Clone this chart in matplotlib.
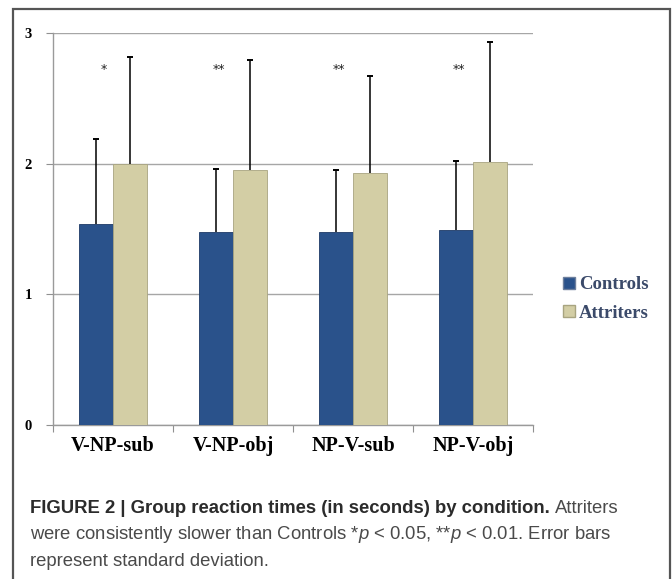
import matplotlib
matplotlib.use("Agg")
import matplotlib.pyplot as plt
from matplotlib.patches import Rectangle
from matplotlib.lines import Line2D
import numpy as np

categories = ["V-NP-sub", "V-NP-obj", "NP-V-sub", "NP-V-obj"]
controls = [1.54, 1.48, 1.48, 1.49]
controls_sd = [0.65, 0.48, 0.47, 0.53]
attriters = [2.00, 1.95, 1.93, 2.01]
attriters_sd = [0.82, 0.84, 0.74, 0.92]
stars = ["*", "**", "**", "**"]
star_level = 2.72
series_names = ["Controls", "Attriters"]
yticks = [0, 1, 2, 3]

c_ctrl = "#2a528b"
c_attr = "#d3cea5"

plt.rcParams["mathtext.fontset"] = "custom"
plt.rcParams["mathtext.it"] = "Liberation Sans:italic"
plt.rcParams["mathtext.rm"] = "Liberation Sans"

fig = plt.figure(figsize=(6.72, 5.79), dpi=100)
W, H = 672, 579

ax = fig.add_axes([53 / W, 1 - 425 / H, 480 / W, 392 / H])
x = np.arange(len(categories))
bw = 0.283
ax.bar(x - bw / 2, controls, bw, color=c_ctrl, edgecolor="#1d3a66", linewidth=0.6, zorder=3)
ax.bar(x + bw / 2, attriters, bw, color=c_attr, edgecolor="#a8a480", linewidth=0.6, zorder=3)

cap = 0.025
for xs, vals, sds in [(x - bw / 2, controls, controls_sd), (x + bw / 2, attriters, attriters_sd)]:
    tops = np.array(vals) + np.array(sds)
    ax.vlines(xs, vals, tops, color="black", linewidth=1.1, zorder=4)
    ax.hlines(tops, xs - cap, xs + cap, color="black", linewidth=1.4, zorder=4)

for i, s in enumerate(stars):
    ax.text(i - 0.04 - 0.04 * len(s), star_level, s, ha="center", va="center",
            fontsize=9, family="DejaVu Sans", color="#222222")

ax.set_xlim(-0.5, 3.5)
ax.set_ylim(0, 3)
ax.set_yticks(yticks)
ax.set_yticklabels([str(t) for t in yticks], family="Liberation Serif",
                   fontweight="bold", fontsize=10.5)
ax.set_xticks(np.arange(-0.5, 4, 1))
ax.set_xticklabels([])
ax.set_xticks(x, minor=True)
ax.set_xticklabels(categories, minor=True, family="Liberation Serif",
                   fontweight="bold", fontsize=14.5)
ax.tick_params(axis="x", which="minor", length=0, pad=8)
ax.tick_params(axis="x", which="major", length=5, color="#909090")
ax.tick_params(axis="y", length=5, color="#909090", pad=10)
ax.grid(axis="y", color="#a6a6a6", linewidth=1.0, zorder=0)
for sp in ["top", "right"]:
    ax.spines[sp].set_visible(False)
for sp in ["left", "bottom"]:
    ax.spines[sp].set_color("#9a9a9a")
    ax.spines[sp].set_linewidth(1.0)

# legend
handles = [Line2D([], [], marker="s", linestyle="none", markersize=8,
                  markerfacecolor=c_ctrl, markeredgecolor="#6d7f9d"),
           Line2D([], [], marker="s", linestyle="none", markersize=8,
                  markerfacecolor=c_attr, markeredgecolor="#a8a480")]
leg = fig.legend(handles, series_names, loc="center left",
                 bbox_to_anchor=(563 / W, 1 - 299 / H), frameon=False,
                 prop={"family": "Liberation Serif", "weight": "bold", "size": 13.5},
                 handlelength=0.6, handletextpad=0.25, labelspacing=0.6,
                 borderpad=0, borderaxespad=0)
for t in leg.get_texts():
    t.set_color("#3b4a6a")

# outer frame
fig.add_artist(Rectangle((13 / W, -0.01), (670 - 13) / W, (579 - 8.5) / H + 0.01,
                         transform=fig.transFigure, fill=False,
                         edgecolor="#555555", linewidth=1.6))

# caption
fig.canvas.draw()
r = fig.canvas.get_renderer()
cap_fs = 13.3
x0 = 30 / W
y1 = 1 - 513 / H
t1 = fig.text(x0, y1, "FIGURE 2 | Group reaction times (in seconds) by condition.",
              family="Liberation Sans", fontweight="bold", fontsize=cap_fs,
              color="#2b2b2b", va="baseline")
bb = t1.get_window_extent(r)
fig.text(bb.x1 / W + 5 / W, y1, "Attriters", family="Liberation Sans",
         fontsize=cap_fs, color="#4a4a4a", va="baseline")
fig.text(x0, 1 - 539 / H,
         r"were consistently slower than Controls *$p$ < 0.05, **$p$ < 0.01. Error bars",
         family="Liberation Sans", fontsize=cap_fs, color="#4a4a4a", va="baseline")
fig.text(x0, 1 - 566 / H, "represent standard deviation.", family="Liberation Sans",
         fontsize=cap_fs, color="#4a4a4a", va="baseline")

fig.savefig("out.png", dpi=100)
